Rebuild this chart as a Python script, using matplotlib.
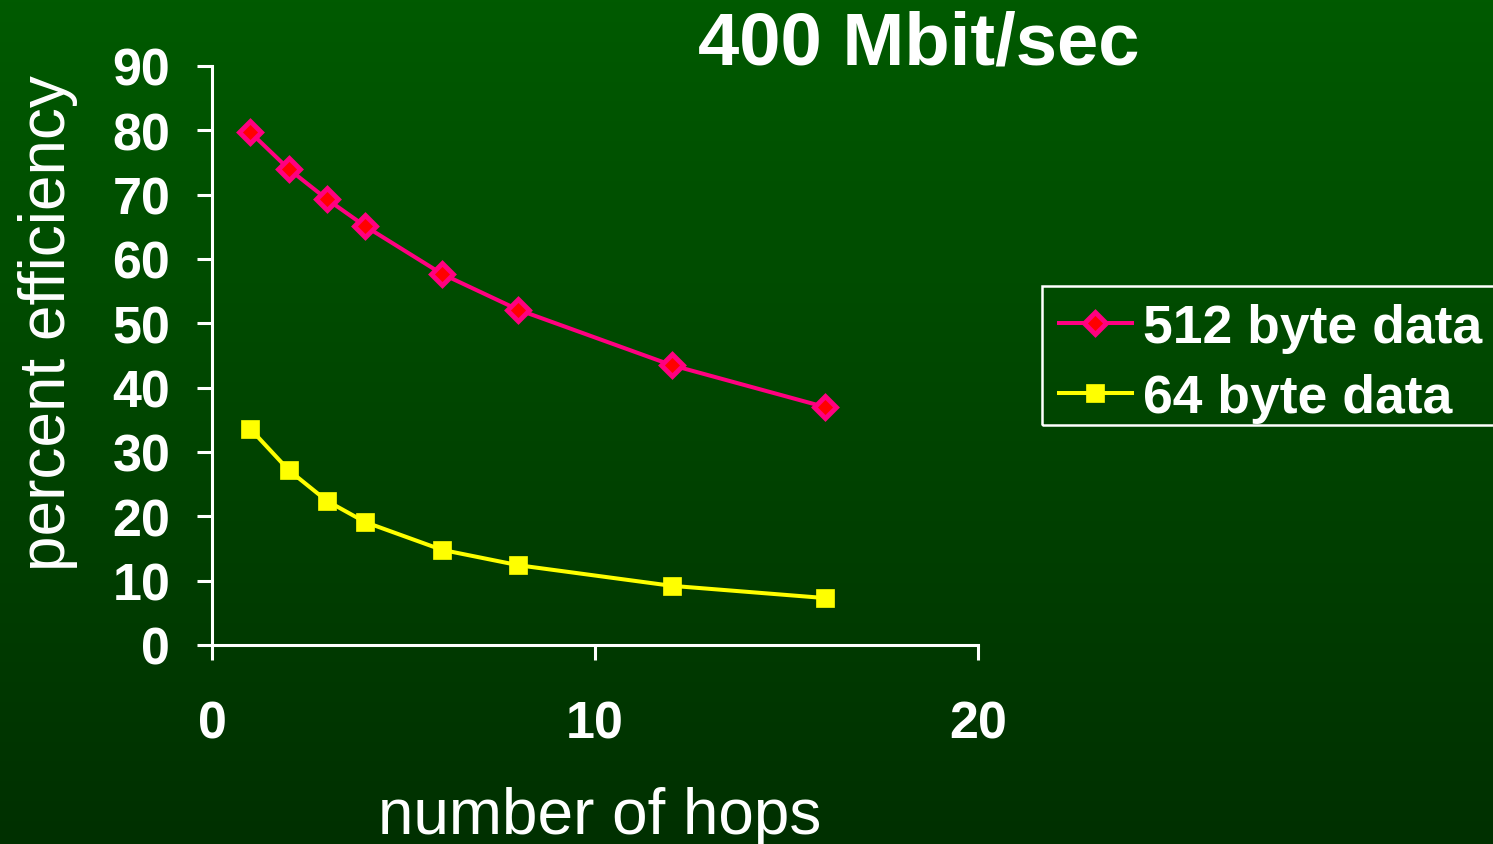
import numpy as np
import matplotlib
matplotlib.use("Agg")
import matplotlib.pyplot as plt
from matplotlib.colors import LinearSegmentedColormap
from matplotlib.patches import Rectangle

plt.rcParams['font.family'] = ['Liberation Sans', 'DejaVu Sans']

hops = [1, 2, 3, 4, 6, 8, 12, 16]
eff_512 = [79.7, 74.0, 69.3, 65.1, 57.7, 52.1, 43.5, 37.0]
eff_64 = [33.6, 27.2, 22.4, 19.1, 14.8, 12.4, 9.2, 7.3]
series_labels = ["512 byte data", "64 byte data"]
title = "400 Mbit/sec"
xlabel = "number of hops"
ylabel = "percent efficiency"
xticks = [0, 10, 20]
yticks = list(range(0, 91, 10))

W, H, DPI = 1493, 845, 100
fig = plt.figure(figsize=(W / DPI, H / DPI), dpi=DPI)

# gradient background
bg = fig.add_axes([0, 0, 1, 1], zorder=-10)
cmap = LinearSegmentedColormap.from_list("g", ["#005a00", "#003000"])
grad = np.linspace(0, 1, 256).reshape(-1, 1)
bg.imshow(grad, aspect='auto', cmap=cmap, extent=[0, 1, 0, 1], origin='upper')
bg.axis('off')

ax = fig.add_axes([212 / W, 1 - 646 / H, (978 - 212) / W, (646 - 67) / H])
ax.patch.set_alpha(0)

pink = "#ff0080"
ax.plot(hops, eff_512, color=pink, lw=2.9, marker='D', ms=11, mfc='#ff0000',
        mec=pink, mew=3.5, label=series_labels[0], clip_on=False)
ax.plot(hops, eff_64, color='#ffff00', lw=2.9, marker='s', ms=13, mfc='#ffff00',
        mec='#ffff00', mew=0.5, label=series_labels[1], clip_on=False)

ax.set_xlim(0, 20)
ax.set_ylim(0, 90)
ax.set_xticks(xticks)
ax.set_yticks(yticks)
for s in ['top', 'right']:
    ax.spines[s].set_visible(False)
for s in ['left', 'bottom']:
    ax.spines[s].set_color('white')
    ax.spines[s].set_linewidth(2.2)
ax.tick_params(axis='both', colors='white', width=2.2, length=11, direction='out',
               labelsize=37.5)
ax.tick_params(axis='y', pad=19)
ax.tick_params(axis='x', pad=28)
for lab in ax.get_xticklabels() + ax.get_yticklabels():
    lab.set_fontweight('bold')

fig.text(919 / W, 1 - 45 / H, title, color='white', fontsize=53.5, fontweight='bold',
         ha='center', va='center')
fig.text(600 / W, 1 - 817 / H, xlabel, color='white', fontsize=46, ha='center', va='center')
fig.text(48 / W, 1 - 323 / H, ylabel, color='white', fontsize=46, ha='center', va='center',
         rotation=90)

# legend frame drawn separately (open on the right edge of the figure)
fig.patches.append(Rectangle((1042 / W, 1 - 426 / H), (1500 - 1042) / W, (426 - 287) / H,
                             transform=fig.transFigure, fill=False, edgecolor='white',
                             linewidth=1.8, clip_on=False))

leg = ax.legend(loc='upper left', bbox_to_anchor=(1047 / W, 1 - 292 / H),
                bbox_transform=fig.transFigure, borderaxespad=0, frameon=False,
                handlelength=1.37, handletextpad=0.2,
                borderpad=0.22, labelspacing=0.38, prop={'size': 38.5, 'weight': 'bold'})
for t in leg.get_texts():
    t.set_color('white')

fig.savefig("out.png", dpi=DPI)
